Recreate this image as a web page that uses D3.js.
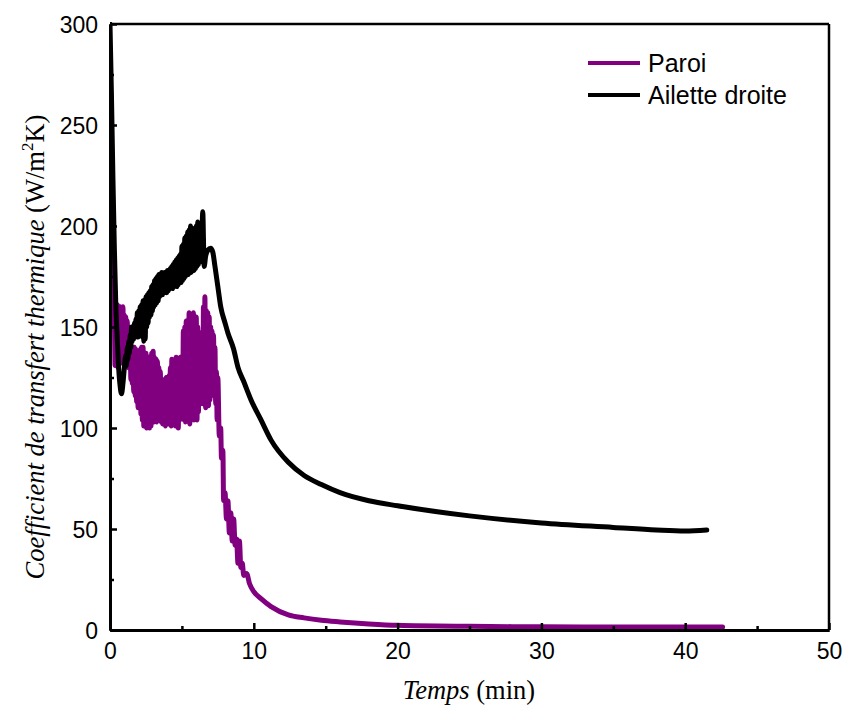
<!DOCTYPE html>
<html><head><meta charset="utf-8">
<script src="https://cdn.jsdelivr.net/npm/d3@7"></script>
<style>body{margin:0;background:#fff}svg{display:block}</style>
</head><body>
<svg id="chart" width="846" height="714"></svg>
<script>
// ---- data ----
const seriesNames = ["Paroi", "Ailette droite"];
const seriesColors = ["#800080", "#000000"];
const xTicks = [0, 10, 20, 30, 40, 50];
const yTicks = [0, 50, 100, 150, 200, 250, 300];

// Paroi: initial drop [time (min), h (W/m2K)]
const paroiStart = [[0.0,285],[0.08,250],[0.16,215],[0.24,185]];
// Paroi: noisy samples, every 0.05 min starting at 0.30 min
const paroiNoiseT0 = 0.30, noiseStep = 0.05;
const paroiNoise = [
 160,131,158,133,161,130,157,134,160,132,
 159,133,160,135,156,131,155,132,153,130,
 150,131,148,124,140,122,138,118,140,116,
 139,113,138,110,137,112,139,107,140,104,
 140,101,136,103,137,100,132,102,135,100,
 134,101,137,104,138,103,135,105,134,103,
 133,104,130,106,128,103,124,102,122,104,
 124,101,125,103,123,102,126,104,130,101,
 134,102,132,104,133,101,135,103,134,100,
 133,104,135,107,134,106,148,104,150,103,
 153,105,152,104,157,102,156,104,155,105,
 157,104,154,106,155,104,150,108,146,112,
 147,114,145,112,160,113,165,110,158,112,
 157,111,155,114,150,116,148,118,146,116,
 140,112,128,104
];
// Paroi: drop and decay [time (min), h]
const paroiTail = [
 [7.5,125],[7.6,96],[7.7,100],[7.75,85],[7.85,89],[7.9,64],[8.0,68],[8.1,55],[8.2,64],[8.3,48],
 [8.4,58],[8.5,44],[8.6,55],[8.7,42],[8.8,45],[8.9,33],[9.0,44],[9.1,31],[9.2,33],[9.3,27],
 [9.5,28],[9.7,23],[10.0,19],[10.5,15.5],[11.2,11.6],[12.4,7.5],[13.5,6],[14.7,4.8],[16,4],[18,3],
 [20,2.3],[25,1.8],[30,1.6],[35,1.5],[42.6,1.5]
];

// Ailette droite: initial drop [time (min), h]
const ailetteStart = [
 [0.0,300],[0.1,265],[0.2,225],[0.3,190],[0.4,162],[0.5,145],[0.6,130],[0.7,121],[0.8,117],[0.9,122],[1.0,130]
];
// Ailette droite: noisy samples, every 0.05 min starting at 1.10 min
const ailetteNoiseT0 = 1.10;
const ailetteNoise = [
 136,131,140,134,143,137,146,140,150,143,
 149,144,152,145,154,146,157,145,158,147,
 160,146,161,145,163,143,162,144,165,150,
 166,152,167,155,168,156,170,158,171,160,
 173,161,174,162,175,163,176,165,176,166,
 177,166,176,167,177,168,177,167,178,168,
 178,169,179,170,180,169,181,170,182,171,
 183,170,184,171,185,172,186,172,190,173,
 191,174,194,175,195,176,197,176,198,177,
 200,177,199,178,196,178,197,179,200,180,
 202,181,199,182,198,183
];
// Ailette droite: peak and decay [time (min), h]
const ailetteTail = [
 [6.45,207],[6.55,180],[6.65,185],[6.8,188],[7.0,189],[7.15,187],[7.3,180],[7.5,170],[7.7,160],[8.0,152],
 [8.2,147],[8.6,139],[8.9,130],[9.3,123],[9.8,114],[10.5,104],[11.2,94],[12.4,83],[13.5,76.5],[14.7,72],
 [16,68],[18,64],[20,61.5],[25,56.5],[30,53],[35,50.8],[38,49.5],[40,49],[41.5,49.5]
];

function assemble(start, t0, noise, tail) {
  return start.concat(noise.map((v, i) => [t0 + i * noiseStep, v]), tail);
}
const paroi = assemble(paroiStart, paroiNoiseT0, paroiNoise, paroiTail);
const ailette = assemble(ailetteStart, ailetteNoiseT0, ailetteNoise, ailetteTail);
const seriesData = [paroi, ailette];

// ---- layout ----
const svg = d3.select("#chart");
const L = 110, R = 829, T = 24, B = 630;
const x = d3.scaleLinear().domain([0, 50]).range([L, R]);
const y = d3.scaleLinear().domain([0, 300]).range([B, T]);

svg.append("defs").append("clipPath").attr("id","clip")
  .append("rect").attr("x",L).attr("y",T-2).attr("width",R-L).attr("height",B-T+2);

const line = d3.line().x(d => x(d[0])).y(d => y(d[1])).curve(d3.curveMonotoneX);
const g = svg.append("g").attr("clip-path","url(#clip)");
seriesData.forEach((s, i) => {
  g.append("path").datum(s).attr("d", line)
    .attr("fill","none").attr("stroke", seriesColors[i])
    .attr("stroke-width", 5).attr("stroke-linejoin","round").attr("stroke-linecap","round");
});

// frame top/right
svg.append("line").attr("x1",L).attr("x2",R).attr("y1",T).attr("y2",T).attr("stroke","#000").attr("stroke-width",2.5);
svg.append("line").attr("x1",R).attr("x2",R).attr("y1",T).attr("y2",B).attr("stroke","#000").attr("stroke-width",2.5);

// axes
const xAxis = d3.axisBottom(x).tickValues(xTicks).tickSize(-7).tickPadding(13).tickSizeOuter(0);
const yAxis = d3.axisLeft(y).tickValues(yTicks).tickSize(-7).tickPadding(12).tickSizeOuter(0);
const xa = svg.append("g").attr("transform",`translate(0,${B})`).call(xAxis);
const ya = svg.append("g").attr("transform",`translate(${L},0)`).call(yAxis);
// minor ticks
const xMinor = d3.axisBottom(x).tickValues([5,15,25,35,45]).tickSize(-4).tickFormat("").tickSizeOuter(0);
const yMinor = d3.axisLeft(y).tickValues([25,75,125,175,225,275]).tickSize(-4).tickFormat("").tickSizeOuter(0);
const xm = svg.append("g").attr("transform",`translate(0,${B})`).call(xMinor);
const ym = svg.append("g").attr("transform",`translate(${L},0)`).call(yMinor);
[xa, ya, xm, ym].forEach(a => {
  a.select(".domain").attr("stroke","#000").attr("stroke-width",3);
  a.selectAll(".tick line").attr("stroke","#000").attr("stroke-width",2.5);
  a.selectAll("text").attr("font-family","'Liberation Sans', Arial, sans-serif")
    .attr("font-size", 23).attr("fill","#000");
});
ya.selectAll("text").attr("dy","0.35em");

// axis titles
const xt = svg.append("text").attr("x", 469).attr("y", 699).attr("text-anchor","middle")
  .attr("font-family","'Liberation Serif', 'Times New Roman', serif").attr("font-size", 26.5);
xt.append("tspan").attr("font-style","italic").text("Temps");
xt.append("tspan").text(" (min)");

const yt = svg.append("text").attr("transform", "translate(44,347) rotate(-90)")
  .attr("text-anchor","middle")
  .attr("font-family","'Liberation Serif', 'Times New Roman', serif").attr("font-size", 26.5);
yt.append("tspan").attr("font-style","italic").text("Coefficient de transfert thermique");
yt.append("tspan").text(" (W/m");
yt.append("tspan").attr("font-size",17).attr("dy",-11).text("2");
yt.append("tspan").attr("dy",11).text("K)");

// legend
const legY = [63, 95];
seriesNames.forEach((n, i) => {
  svg.append("line").attr("x1",588).attr("x2",640).attr("y1",legY[i]).attr("y2",legY[i])
    .attr("stroke",seriesColors[i]).attr("stroke-width",4);
  svg.append("text").attr("x",648).attr("y",legY[i]).attr("dy","0.35em")
    .attr("font-family","'Liberation Sans', Arial, sans-serif").attr("font-size",25).text(n);
});
</script>
</body></html>
